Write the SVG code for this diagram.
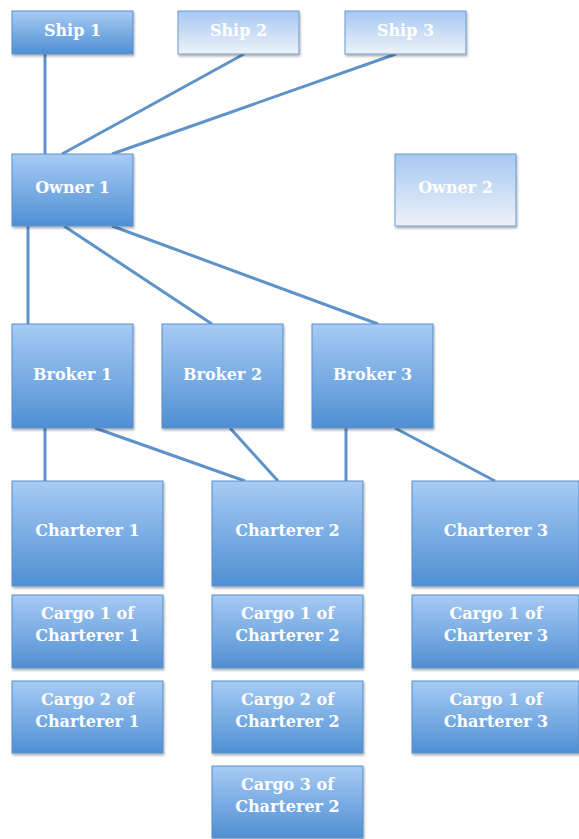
<svg xmlns="http://www.w3.org/2000/svg" width="579" height="839" viewBox="0 0 579 839">
<defs>
<linearGradient id="gDark" x1="0" y1="0" x2="0" y2="1">
<stop offset="0" stop-color="#a7cbf4"/>
<stop offset="1" stop-color="#4f8fd3"/>
</linearGradient>
<linearGradient id="gLight" x1="0" y1="0" x2="0" y2="1">
<stop offset="0" stop-color="#a6c8f2"/>
<stop offset="1" stop-color="#eef2f8"/>
</linearGradient>
<filter id="sh" x="-10%" y="-10%" width="130%" height="130%">
<feDropShadow dx="1" dy="2" stdDeviation="1.2" flood-color="#000" flood-opacity="0.3"/>
</filter>
</defs>
<style>
.d{fill:url(#gDark);stroke:#5b8fc9;stroke-width:1;filter:url(#sh)}
.l{fill:url(#gLight);stroke:#6c9bd0;stroke-width:1;filter:url(#sh)}
text{font-family:"DejaVu Serif","Liberation Serif",serif;font-weight:bold;font-size:16px;fill:#ffffff;text-anchor:middle}
.c line{stroke:#5f92c8;stroke-width:3;stroke-linecap:butt}
</style>
<rect width="579" height="839" fill="#ffffff"/>
<g class="c" id="connectors">
<line x1="45" y1="54" x2="45" y2="154"/>
<line x1="244" y1="54" x2="62" y2="154"/>
<line x1="396" y1="54" x2="112" y2="154"/>
<line x1="28" y1="226" x2="28" y2="324"/>
<line x1="64" y1="226" x2="212" y2="324"/>
<line x1="112" y1="226" x2="378" y2="324"/>
<line x1="45" y1="428" x2="45" y2="481"/>
<line x1="95" y1="428" x2="245" y2="481"/>
<line x1="230" y1="428" x2="278" y2="481"/>
<line x1="346" y1="428" x2="346" y2="481"/>
<line x1="395" y1="428" x2="495" y2="481"/>
</g>
<g id="ship1"><rect class="d" x="12" y="11" width="121" height="43"/><text x="72.5" y="36">Ship 1</text></g>
<g id="ship2"><rect class="l" x="178" y="11" width="121" height="43"/><text x="238.5" y="36">Ship 2</text></g>
<g id="ship3"><rect class="l" x="345" y="11" width="121" height="43"/><text x="405.5" y="36">Ship 3</text></g>
<g id="owner1"><rect class="d" x="12" y="154" width="121" height="72"/><text x="72.5" y="193">Owner 1</text></g>
<g id="owner2"><rect class="l" x="395" y="154" width="121" height="72"/><text x="455.5" y="193">Owner 2</text></g>
<g id="broker1"><rect class="d" x="12" y="324" width="121" height="104"/><text x="72.5" y="380">Broker 1</text></g>
<g id="broker2"><rect class="d" x="162" y="324" width="121" height="104"/><text x="222.5" y="380">Broker 2</text></g>
<g id="broker3"><rect class="d" x="312" y="324" width="121" height="104"/><text x="372.5" y="380">Broker 3</text></g>
<g id="charterer1"><rect class="d" x="12" y="481" width="151" height="105"/><text x="87.5" y="536">Charterer 1</text></g>
<g id="charterer2"><rect class="d" x="212" y="481" width="151" height="105"/><text x="287.5" y="536">Charterer 2</text></g>
<g id="charterer3"><rect class="d" x="412" y="481" width="167" height="105"/><text x="496" y="536">Charterer 3</text></g>
<g id="cargo1c1"><rect class="d" x="12" y="595" width="151" height="73"/><text x="87.5" y="619">Cargo 1 of</text><text x="87.5" y="641">Charterer 1</text></g>
<g id="cargo2c1"><rect class="d" x="12" y="681" width="151" height="72"/><text x="87.5" y="705">Cargo 2 of</text><text x="87.5" y="727">Charterer 1</text></g>
<g id="cargo1c2"><rect class="d" x="212" y="595" width="151" height="73"/><text x="287.5" y="619">Cargo 1 of</text><text x="287.5" y="641">Charterer 2</text></g>
<g id="cargo2c2"><rect class="d" x="212" y="681" width="151" height="72"/><text x="287.5" y="705">Cargo 2 of</text><text x="287.5" y="727">Charterer 2</text></g>
<g id="cargo3c2"><rect class="d" x="212" y="766" width="151" height="72"/><text x="287.5" y="790">Cargo 3 of</text><text x="287.5" y="812">Charterer 2</text></g>
<g id="cargo1c3a"><rect class="d" x="412" y="595" width="167" height="73"/><text x="496" y="619">Cargo 1 of</text><text x="496" y="641">Charterer 3</text></g>
<g id="cargo1c3b"><rect class="d" x="412" y="681" width="167" height="72"/><text x="496" y="705">Cargo 1 of</text><text x="496" y="727">Charterer 3</text></g>
</svg>
